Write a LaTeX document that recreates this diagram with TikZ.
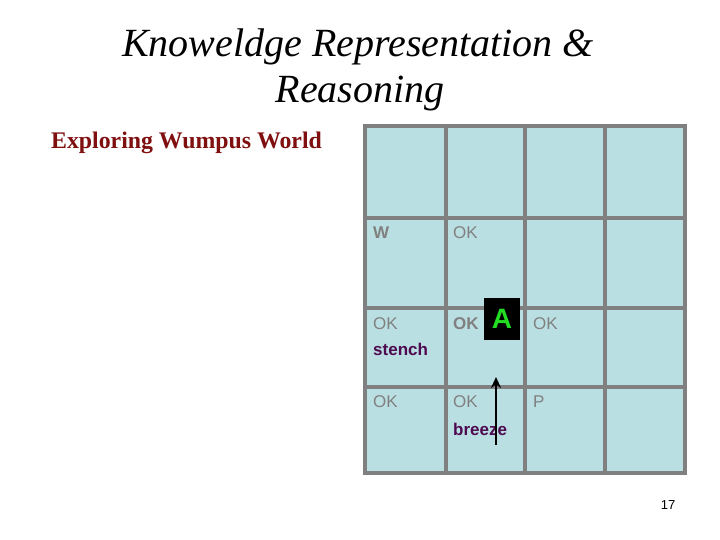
\documentclass[tikz,border=0pt]{standalone}
\usepackage{fontspec}
\usetikzlibrary{arrows.meta}
\setmainfont{Liberation Serif}
\newfontfamily\arialf{Liberation Sans}
\definecolor{gridgray}{HTML}{808080}
\definecolor{cellblue}{HTML}{BADFE2}
\definecolor{titlered}{HTML}{801010}
\definecolor{percept}{HTML}{4E0A50}
\definecolor{agentgreen}{HTML}{22DD22}
\begin{document}
\begin{tikzpicture}[x=1pt,y=-1pt,
  cell/.style={font=\arialf\fontsize{17}{20}\selectfont, text=gridgray, anchor=base west, inner sep=0pt},
  cellb/.style={cell, font=\arialf\bfseries\fontsize{17}{20}\selectfont},
  perc/.style={anchor=base west, inner sep=0pt, text=percept, font=\arialf\bfseries\fontsize{17}{20}\selectfont}]
\useasboundingbox (0,0) rectangle (720,540);
\fill[white] (0,0) rectangle (720,540);
% title
\node[anchor=base, inner sep=0pt, font=\itshape\fontsize{40}{48}\selectfont] (t1) at (358,57) {Knoweldge Representation \&};
\node[anchor=base, inner sep=0pt, font=\itshape\fontsize{40}{48}\selectfont] (t2) at (360,103) {Reasoning};
\node[anchor=base west, inner sep=0pt, text=titlered, font=\bfseries\fontsize{23.8}{28}\selectfont] (sub) at (51,149) {Exploring Wumpus World};
% grid
\fill[cellblue] (365,126) rectangle (685,473);
\draw[gridgray, line width=3.2pt]
  (365,126) rectangle (685,473)
  (446,126) -- (446,473)
  (525,126) -- (525,473)
  (605,126) -- (605,473)
  (365,218) -- (685,218)
  (365,308) -- (685,308)
  (365,387) -- (685,387);
% cell labels
\node[cellb] (w) at (373,239) {W};
\node[cell] (ok12) at (453,239) {OK};
\node[cell] (ok21) at (373,329) {OK};
\node[perc] (st) at (373,355) {stench};
\node[cellb] (ok22) at (453,329) {OK};
\node[cell] (ok23) at (533,329) {OK};
\node[cell] (ok31) at (373,407) {OK};
\node[cell] (ok32) at (453,407) {OK};
\node[cell] (p) at (533,407) {P};
\node[perc] (br) at (453,435) {breeze};
% agent
\node[fill=black, minimum width=36pt, minimum height=42pt, inner sep=0pt, text=agentgreen, font=\arialf\bfseries\fontsize{28}{30}\selectfont] (a) at (502,319) {A};
\coordinate (from) at (496,445);
\coordinate (to) at (496,377);
\draw[line width=2.2pt, -{Stealth[length=11pt,width=10pt]}] (from) -- (to);
% page number
\node[anchor=base, inner sep=0pt, font=\arialf\fontsize{13}{15}\selectfont] (pg) at (668,509) {17};
\end{tikzpicture}
\end{document}
